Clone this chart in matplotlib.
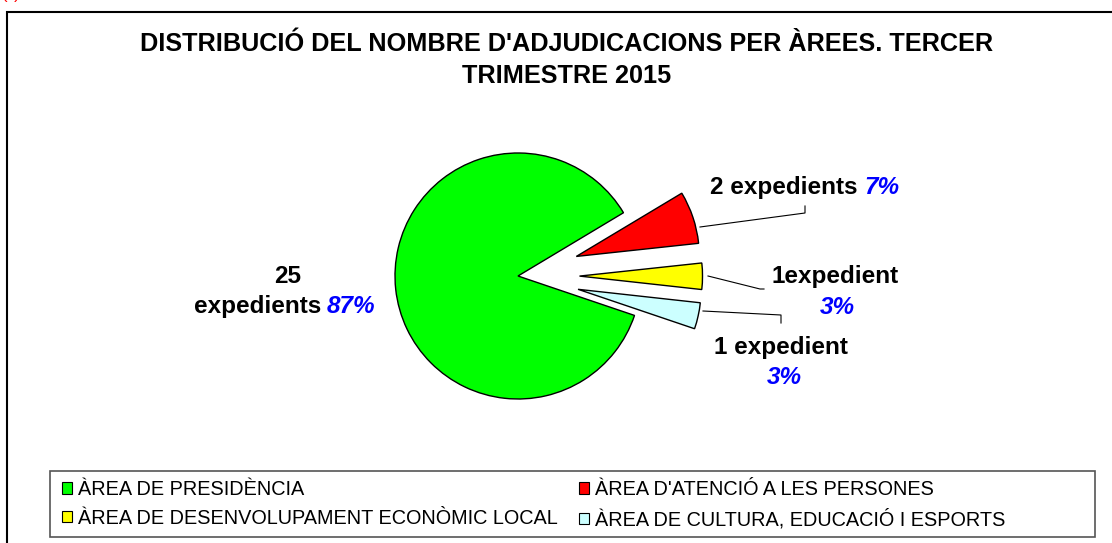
import matplotlib
matplotlib.use("Agg")
import matplotlib.pyplot as plt
from matplotlib.patches import Patch, Rectangle
from matplotlib.lines import Line2D

W, H = 1112, 543

AREES = [
    "ÀREA DE PRESIDÈNCIA",
    "ÀREA D'ATENCIÓ A LES PERSONES",
    "ÀREA DE DESENVOLUPAMENT ECONÒMIC LOCAL",
    "ÀREA DE CULTURA, EDUCACIÓ I ESPORTS",
]
EXPEDIENTS = [25, 2, 1, 1]
PERCENTATGES = ["87%", "7%", "3%", "3%"]
COLORS = ["#00FF00", "#FF0000", "#FFFF00", "#CCFFFF"]

TITLE = "DISTRIBUCIÓ DEL NOMBRE D'ADJUDICACIONS PER ÀREES. TERCER\nTRIMESTRE 2015"

plt.rcParams["font.family"] = ["Liberation Sans", "DejaVu Sans"]

LABEL_SIZE = 17.5


def fx(x):
    return x / W


def fy(y):
    return 1 - y / H


fig = plt.figure(figsize=(W / 100, H / 100), dpi=100)

# outer chart border (runs off the right / bottom of the image)
fig.patches.append(Rectangle((fx(7), fy(560)), fx(1120) - fx(7), fy(12) - fy(560),
                             transform=fig.transFigure, fill=False, edgecolor="black",
                             linewidth=1.5, clip_on=False))

# cut-off red mark in the top-left corner
fig.text(fx(2), fy(-1.5), "(*)", color="red", fontsize=12, va="baseline", ha="left")

fig.text(fx(567), fy(51), TITLE.split("\n")[0], fontsize=18.2, fontweight="bold",
         ha="center", va="baseline")
fig.text(fx(567), fy(83), TITLE.split("\n")[1], fontsize=18.2, fontweight="bold",
         ha="center", va="baseline")

# pie: centre (518, 276), radius ~123 px
r = 123
ax = fig.add_axes([fx(518 - 1.5 * r), fy(276 + 1.5 * r), 3 * r / W, 3 * r / H])
wedges, _ = ax.pie(
    EXPEDIENTS,
    colors=COLORS,
    startangle=-18.7,
    counterclock=False,
    explode=[0, 0.5, 0.5, 0.5],
    wedgeprops=dict(edgecolor="black", linewidth=1),
)
ax.set_xlim(-1.5, 1.5)
ax.set_ylim(-1.5, 1.5)
ax.set_aspect("equal")
ax.axis("off")


def split_label(xs, y, black, blue):
    fig.text(fx(xs - 3), fy(y), black, fontsize=LABEL_SIZE, fontweight="bold",
             ha="right", va="baseline", color="black")
    fig.text(fx(xs + 3), fy(y), blue, fontsize=LABEL_SIZE, fontweight="bold",
             style="italic", ha="left", va="baseline", color="#0000FF")


def centered(x, y, s, color="black", italic=False):
    fig.text(fx(x), fy(y), s, fontsize=LABEL_SIZE, fontweight="bold",
             style="italic" if italic else "normal",
             ha="center", va="baseline", color=color)


centered(288, 283, str(EXPEDIENTS[0]))
split_label(324, 313, "expedients", PERCENTATGES[0])
split_label(861, 194, f"{EXPEDIENTS[1]} expedients", PERCENTATGES[1])
centered(835, 283, f"{EXPEDIENTS[2]}expedient")
centered(837, 314, PERCENTATGES[2], color="#0000FF", italic=True)
centered(781, 354, f"{EXPEDIENTS[3]} expedient")
centered(784, 384, PERCENTATGES[3], color="#0000FF", italic=True)

# leader lines
for xs, ys in [
    ([700, 805, 805], [227, 213, 206]),
    ([708, 760, 764], [276, 289, 289]),
    ([703, 781, 781], [311, 315, 323]),
]:
    fig.lines.append(Line2D([fx(v) for v in xs], [fy(v) for v in ys],
                            transform=fig.transFigure, color="black", linewidth=0.8))

# legend box
fig.patches.append(Rectangle((fx(50), fy(537)), fx(1095) - fx(50), fy(471) - fy(537),
                             transform=fig.transFigure, fill=False, edgecolor="#555555",
                             linewidth=1.2))
order = [0, 2, 1, 3]
handles = [Patch(facecolor=COLORS[i], edgecolor="black", linewidth=0.8) for i in order]
labels = [AREES[i] for i in order]
fig.legend(handles, labels, ncol=2, frameon=False, fontsize=14.3,
           loc="upper left", bbox_to_anchor=(fx(50), fy(468)),
           handlelength=0.5, handleheight=0.5, handletextpad=0.3,
           columnspacing=1.1, labelspacing=0.5, borderpad=0.1)

fig.savefig("out.png", dpi=100)
